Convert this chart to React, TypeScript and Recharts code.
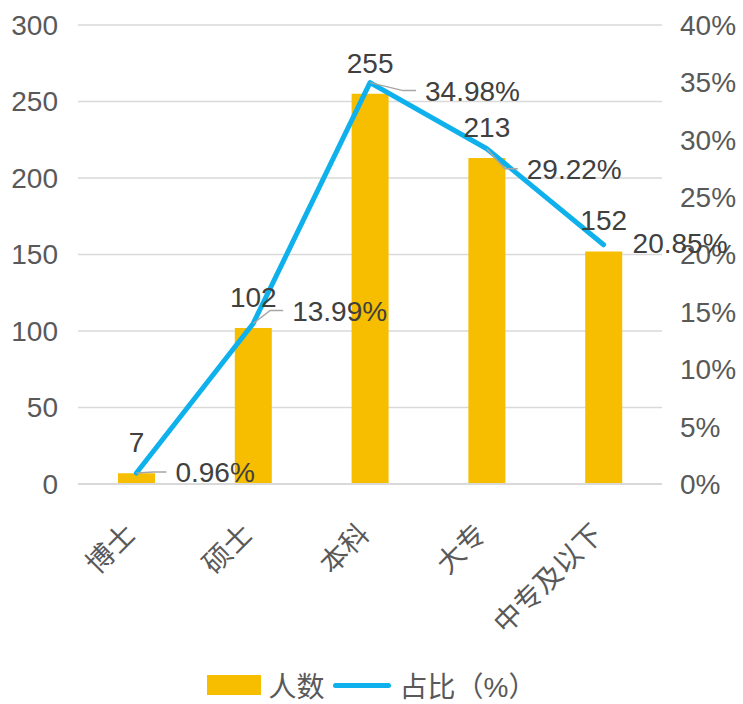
import { ComposedChart, Bar, Line, XAxis, YAxis, CartesianGrid, Legend, LabelList } from "recharts";

const categories = ["博士", "硕士", "本科", "大专", "中专及以下"];
const headcount = [7, 102, 255, 213, 152];
const share = [0.96, 13.99, 34.98, 29.22, 20.85];
const leftTicks = [0, 50, 100, 150, 200, 250, 300];
const rightTicks = [0, 5, 10, 15, 20, 25, 30, 35, 40];

// where Excel dropped each % label, relative to its point: [dx to text start, dy to text middle]
const shareLabelOffsets = [
  [39, -1],
  [39, -13],
  [55, 8],
  [40, 20],
  [29, -2],
];

const data = categories.map((name, i) => ({ name, count: headcount[i], ratio: share[i] }));

const FONT = "'Liberation Sans', Arial, 'Noto Sans CJK SC', sans-serif";
const GOLD = "#F7BE00";
const BLUE = "#0FB1EC";
const AXIS_TEXT = "#595959";
const LABEL_TEXT = "#404040";

const CategoryTick = ({ x, y, payload }: any) => (
  <g transform={`translate(${x + 1},${y + 50})`}>
    <text textAnchor="end" transform="rotate(-45)" fill={AXIS_TEXT} fontSize={28} fontFamily={FONT}>
      {payload.value}
    </text>
  </g>
);

const CountLabel = ({ x, y, width, value }: any) => (
  <text x={x + width / 2} y={y - 21} textAnchor="middle" fill={LABEL_TEXT} fontSize={28} fontFamily={FONT}>
    {value}
  </text>
);

const ShareLabel = ({ x, y, value, index }: any) => {
  const [dx, dy] = shareLabelOffsets[index];
  const tx = x + dx;
  const ty = y + dy;
  const end = tx - 9;
  const elbow = end - 13;
  return (
    <g>
      {dx > 35 && (
        <polyline
          points={`${x},${y} ${elbow},${ty} ${end},${ty}`}
          fill="none"
          stroke="#A6A6A6"
          strokeWidth={1.5}
        />
      )}
      <text x={tx} y={ty} dy="0.36em" fill={LABEL_TEXT} fontSize={28} fontFamily={FONT}>
        {`${value.toFixed(2)}%`}
      </text>
    </g>
  );
};

const LegendContent = () => (
  <div
    style={{
      height: 40,
      display: "flex",
      alignItems: "center",
      justifyContent: "center",
      fontFamily: FONT,
      fontSize: 28,
      color: AXIS_TEXT,
      paddingTop: 2,
      boxSizing: "border-box",
    }}
  >
    <span style={{ display: "inline-block", width: 54, height: 20, background: GOLD, marginRight: 8 }} />
    <span>人数</span>
    <span
      style={{ display: "inline-block", width: 58, height: 5, borderRadius: 3, background: BLUE, margin: "0 9px 0 8px" }}
    />
    <span>占比（%）</span>
  </div>
);

export default function App() {
  return (
    <div style={{ position: "absolute", left: 0, top: 0, width: 743, height: 704, background: "#fff" }}>
      <ComposedChart width={743} height={704} data={data} margin={{ top: 25, right: 0, left: 0, bottom: 0 }}>
        <CartesianGrid yAxisId="left" vertical={false} stroke="#D9D9D9" strokeWidth={1.5} />
        <XAxis
          dataKey="name"
          height={180}
          interval={0}
          tickSize={0}
          tickLine={false}
          axisLine={{ stroke: "#D9D9D9", strokeWidth: 2 }}
          tick={<CategoryTick />}
        />
        <YAxis
          yAxisId="left"
          width={78}
          domain={[0, 300]}
          ticks={leftTicks}
          axisLine={false}
          tickLine={false}
          tickSize={0}
          tickMargin={20}
          tick={{ fill: AXIS_TEXT, fontSize: 28, fontFamily: FONT }}
        />
        <YAxis
          yAxisId="right"
          orientation="right"
          width={81}
          domain={[0, 40]}
          ticks={rightTicks}
          axisLine={false}
          tickLine={false}
          tickSize={0}
          tickMargin={18}
          tickFormatter={(v) => `${v}%`}
          tick={{ fill: AXIS_TEXT, fontSize: 28, fontFamily: FONT }}
        />
        <Legend verticalAlign="bottom" height={40} content={<LegendContent />} />
        <Bar yAxisId="left" dataKey="count" name="人数" fill={GOLD} barSize={37} isAnimationActive={false}>
          <LabelList dataKey="count" content={<CountLabel />} />
        </Bar>
        <Line
          yAxisId="right"
          dataKey="ratio"
          name="占比（%）"
          type="linear"
          stroke={BLUE}
          strokeWidth={5}
          strokeLinecap="round"
          strokeLinejoin="round"
          dot={false}
          activeDot={false}
          isAnimationActive={false}
        >
          <LabelList dataKey="ratio" content={<ShareLabel />} />
        </Line>
      </ComposedChart>
    </div>
  );
}
